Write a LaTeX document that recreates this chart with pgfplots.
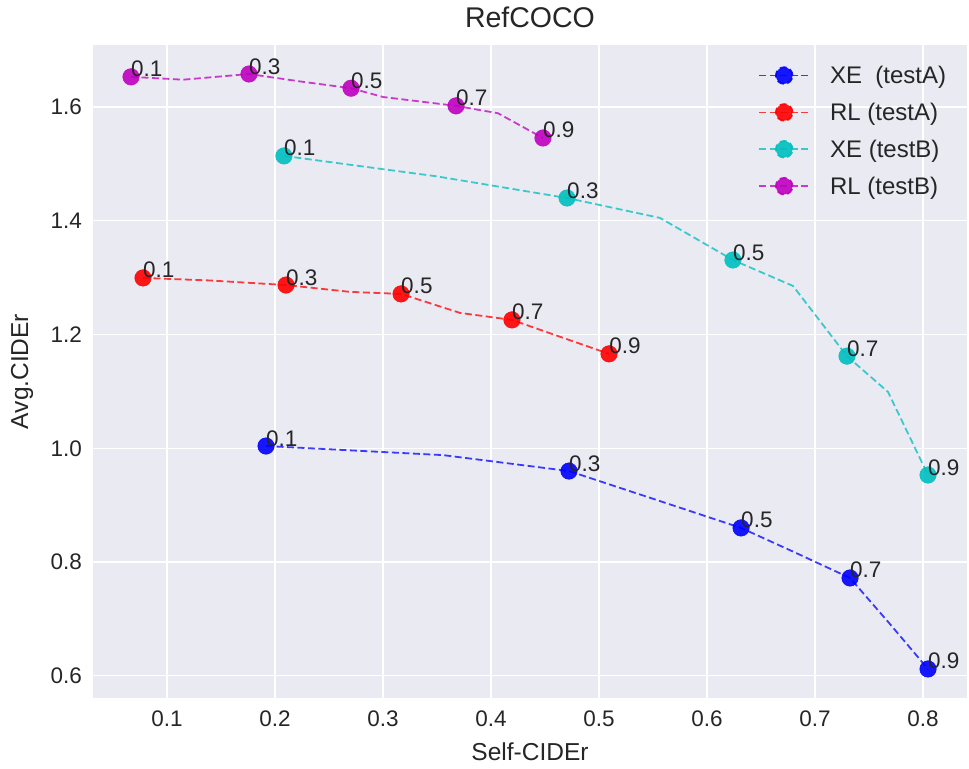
\documentclass[border=0pt]{standalone}
\usepackage{pgfplots}
\pgfplotsset{compat=1.18}
\usepackage{pgfplotstable}
\usepackage{fontspec}
\setmainfont{Liberation Sans}
\definecolor{bgc}{HTML}{EAEAF2}
\definecolor{txt}{HTML}{262626}
\definecolor{mc}{rgb}{0,0.75,0.75}
\definecolor{mm}{rgb}{0.75,0,0.75}

\pgfplotstableread{
x y l
0.1917 1.004 0.1
0.3556 0.988 {}
0.4722 0.960 0.3
0.552 0.910 {}
0.6315 0.860 0.5
0.6824 0.816 {}
0.7324 0.772 0.7
0.7685 0.693 {}
0.8046 0.612 0.9
}\xeA
\pgfplotstableread{
x y l
0.0778 1.2995 0.1
0.140 1.295 {}
0.2102 1.287 0.3
0.2694 1.275 {}
0.3167 1.2714 0.5
0.3713 1.238 {}
0.4194 1.2257 0.7
0.464 1.196 {}
0.5093 1.166 0.9
}\rlA
\pgfplotstableread{
x y l
0.2083 1.514 0.1
0.350 1.478 {}
0.4704 1.440 0.3
0.5565 1.405 {}
0.624 1.331 0.5
0.6796 1.2854 {}
0.7296 1.162 0.7
0.7676 1.099 {}
0.8046 0.953 0.9
}\xeB
\pgfplotstableread{
x y l
0.0667 1.653 0.1
0.115 1.648 {}
0.1759 1.658 0.3
0.223 1.645 {}
0.2704 1.633 0.5
0.300 1.6176 {}
0.3676 1.602 0.7
0.4065 1.589 {}
0.4481 1.5455 0.9
}\rlB

\pgfplotsset{
  dline/.style={#1, opacity=0.75, line width=1.8bp, dash pattern=on 7bp off 3.5bp, mark=none,
    legend image code/.code={
      \draw[#1, opacity=0.75, line width=1.8bp, dash pattern=on 7bp off 3.5bp] (0bp,0bp) -- (50bp,0bp);
      \fill[#1, opacity=0.9] (25bp,0bp) circle (8.3bp);}},
  dmark/.style={only marks, mark=*, mark size=8.3bp, #1, opacity=0.9, mark options={draw=none, fill=#1},
    mark indices={1,3,5,7,9},
    nodes near coords, point meta=explicit symbolic,
    every node near coord/.append style={anchor=base west, inner sep=0pt, text=txt, text opacity=1, font=\fontsize{22.5bp}{26bp}\selectfont}},
}

\begin{document}
\begin{tikzpicture}
\useasboundingbox (-93bp,-71bp) rectangle (876bp,698bp);
\begin{axis}[
  at={(0,0)}, anchor=south west,
  scale only axis, width=874bp, height=653bp,
  xmin=0.0315, xmax=0.8407, ymin=0.561, ymax=1.709,
  axis background/.style={fill=bgc},
  axis line style={draw=none},
  grid=major, grid style={white, line width=1.3bp},
  major tick length=0pt,
  xtick={0.1,0.2,...,0.8}, ytick={0.6,0.8,...,1.6},
  /pgf/number format/.cd, fixed, fixed zerofill, precision=1, assume math mode=true, /pgfplots/.cd,
  tick label style={font=\fontsize{22.5bp}{26bp}\selectfont, text=txt, inner sep=0pt},
  yticklabel style={xshift=-11bp},
  xticklabel style={yshift=-12.5bp},
  every axis x label/.style={at={(axis description cs:0.5,0)}, anchor=north, yshift=-45bp, inner sep=0pt, font=\fontsize{24.5bp}{28bp}\selectfont, text=txt},
  every axis y label/.style={at={(axis description cs:-0.0812,0.5)}, rotate=90, anchor=center, inner sep=0pt, font=\fontsize{24.5bp}{28bp}\selectfont, text=txt},
  title style={at={(axis description cs:0.5,1)}, anchor=center, yshift=22bp, inner sep=0pt, font=\fontsize{28.5bp}{32bp}\selectfont, text=txt},
  title={RefCOCO}, xlabel={Self-CIDEr}, ylabel={Avg.CIDEr},
  legend style={at={(axis description cs:0.761,0.968)}, anchor=north west, draw=none, fill=none,
    font=\fontsize{24bp}{28bp}\selectfont, text=txt, row sep=18bp, inner sep=0pt,
    nodes={inner sep=0pt, anchor=west}},
  legend cell align=left,
  /tikz/every odd column/.append style={column sep=20bp},
]
\addplot[dline=blue] table[x=x,y=y] {\xeA};
\addlegendentry{XE\ \ (testA)}
\addplot[dline=red] table[x=x,y=y] {\rlA};
\addlegendentry{RL (testA)}
\addplot[dline=mc] table[x=x,y=y] {\xeB};
\addlegendentry{XE (testB)}
\addplot[dline=mm] table[x=x,y=y] {\rlB};
\addlegendentry{RL (testB)}
\addplot[dmark=blue, forget plot] table[x=x,y=y,meta=l] {\xeA};
\addplot[dmark=red, forget plot] table[x=x,y=y,meta=l] {\rlA};
\addplot[dmark=mc, forget plot] table[x=x,y=y,meta=l] {\xeB};
\addplot[dmark=mm, forget plot] table[x=x,y=y,meta=l] {\rlB};
\end{axis}
\end{tikzpicture}
\end{document}
